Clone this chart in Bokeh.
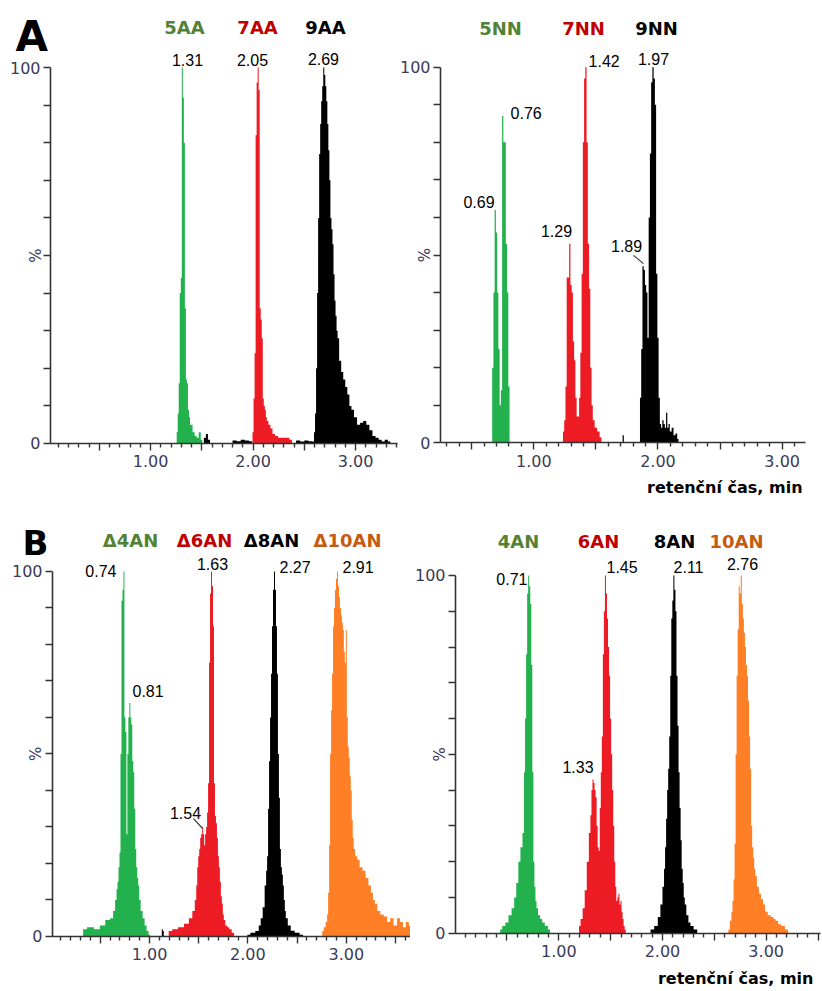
import math
from bokeh.plotting import figure
from bokeh.models import Range1d, FixedTicker, Label, ColumnDataSource
from bokeh.layouts import column, row
from bokeh.embed import file_html
from bokeh.resources import INLINE

# ------------------------------------------------------------------ data
x_major_ticks = [0.5, 1.0, 1.5, 2.0, 2.5, 3.0, 3.5]
x_major_labels = ["", "1.00", "", "2.00", "", "3.00", ""]
x_minor_ticks = [0.1, 0.2, 0.3, 0.4, 0.6, 0.7, 0.8, 0.9, 1.1, 1.2, 1.3, 1.4,
                 1.6, 1.7, 1.8, 1.9, 2.1, 2.2, 2.3, 2.4, 2.6, 2.7, 2.8, 2.9,
                 3.1, 3.2, 3.3, 3.4, 3.6]
y_ticks = [0, 10, 20, 30, 40, 50, 60, 70, 80, 90, 100]
y_tick_labels = ["0", "", "", "", "", "", "", "", "", "", "100"]

# Panel A, left: (retention time min, relative intensity %)
tr_5AA = [(1.25, 0), (1.26, 3), (1.27, 8), (1.28, 16), (1.29, 40), (1.30, 44),
          (1.31, 100), (1.32, 92), (1.33, 80), (1.34, 36), (1.35, 17), (1.36, 16),
          (1.37, 9), (1.38, 7), (1.39, 5), (1.40, 5), (1.42, 3), (1.44, 2),
          (1.46, 1.5), (1.48, 3), (1.50, 1), (1.51, 0)]
tr_7AA = [(1.99, 0), (2.00, 3), (2.01, 12), (2.02, 24), (2.03, 82), (2.04, 96),
          (2.05, 100), (2.06, 94), (2.07, 36), (2.08, 33), (2.09, 28), (2.10, 12),
          (2.11, 10), (2.12, 9), (2.13, 7), (2.14, 6), (2.16, 5), (2.18, 4),
          (2.20, 2.5), (2.23, 2), (2.26, 1.5), (2.30, 1.5), (2.34, 1.5), (2.37, 1),
          (2.39, 0)]
tr_9AA = [(1.51, 0), (1.53, 1.5), (1.55, 2.5), (1.57, 1), (1.59, 0), (1.78, 0),
          (1.82, 0.8), (1.86, 0.6), (1.90, 1), (1.94, 0.8), (1.98, 0.6), (2.00, 0),
          (2.40, 0), (2.44, 0.8), (2.48, 0.5), (2.52, 0.8), (2.56, 0.6), (2.59, 0.5),
          (2.60, 3), (2.61, 8), (2.62, 20), (2.63, 40), (2.64, 60), (2.65, 77),
          (2.66, 85), (2.67, 91), (2.68, 95), (2.69, 100), (2.70, 98), (2.71, 95),
          (2.72, 91), (2.73, 85), (2.74, 78), (2.75, 70), (2.76, 60), (2.77, 57),
          (2.78, 53), (2.79, 45), (2.80, 38), (2.81, 34), (2.82, 30), (2.83, 28),
          (2.85, 22), (2.87, 19), (2.89, 17), (2.91, 15), (2.93, 13), (2.95, 10),
          (2.97, 9), (3.00, 7), (3.03, 5), (3.06, 5.5), (3.09, 6), (3.12, 5),
          (3.15, 3.5), (3.18, 2), (3.21, 1.5), (3.24, 1), (3.27, 0.5), (3.30, 1),
          (3.33, 0.5), (3.35, 0)]

# Panel A, right
tr_5NN = [(0.66, 0), (0.67, 20), (0.68, 40), (0.69, 62), (0.70, 56), (0.71, 40),
          (0.72, 25), (0.73, 10), (0.74, 14), (0.75, 87), (0.76, 80), (0.77, 80),
          (0.78, 53), (0.79, 40), (0.80, 15), (0.81, 0)]
tr_7NN = [(1.23, 0), (1.24, 3), (1.25, 6), (1.26, 15), (1.27, 44), (1.28, 44),
          (1.29, 53), (1.30, 42), (1.31, 40), (1.32, 27), (1.33, 22), (1.34, 12),
          (1.35, 7), (1.36, 7), (1.37, 12), (1.38, 24), (1.39, 45), (1.40, 80),
          (1.41, 97), (1.42, 100), (1.43, 80), (1.44, 53), (1.45, 41), (1.46, 20),
          (1.47, 10), (1.48, 6), (1.50, 4), (1.52, 3), (1.54, 1.5), (1.55, 0)]
tr_9NN = [(1.71, 0), (1.72, 2), (1.73, 0), (1.85, 0), (1.86, 12), (1.87, 25),
          (1.88, 47), (1.89, 46), (1.90, 42), (1.91, 40), (1.92, 28), (1.93, 60),
          (1.94, 77), (1.95, 96), (1.96, 100), (1.97, 97), (1.98, 90), (1.99, 45),
          (2.00, 28), (2.01, 12), (2.02, 5), (2.03, 4), (2.04, 6), (2.05, 5),
          (2.06, 4), (2.07, 8), (2.08, 4), (2.09, 5), (2.10, 3), (2.12, 4),
          (2.13, 2), (2.15, 2.5), (2.16, 1), (2.17, 0)]

# Panel B, left
tr_d4AN = [(0.32, 0), (0.33, 2), (0.40, 2.5), (0.47, 2), (0.52, 3), (0.58, 4.5),
           (0.62, 5), (0.64, 7), (0.66, 10), (0.67, 13), (0.68, 15), (0.69, 19),
           (0.70, 23), (0.71, 50), (0.72, 92), (0.73, 95), (0.74, 100), (0.75, 60),
           (0.76, 56), (0.77, 28), (0.78, 50), (0.79, 60), (0.80, 64), (0.81, 60),
           (0.82, 58), (0.83, 48), (0.84, 45), (0.85, 35), (0.86, 24), (0.87, 19),
           (0.88, 16), (0.89, 14), (0.90, 10), (0.92, 7), (0.94, 5), (0.96, 3),
           (0.98, 1.5), (1.00, 0.5), (1.01, 0)]
tr_d6AN = [(1.19, 0), (1.20, 1.5), (1.26, 2), (1.32, 2.5), (1.38, 3.5), (1.42, 5),
           (1.45, 7), (1.47, 10), (1.48, 14), (1.49, 19), (1.50, 22), (1.51, 24),
           (1.52, 27), (1.53, 28), (1.54, 30), (1.55, 28), (1.56, 25), (1.57, 28),
           (1.58, 30), (1.59, 34), (1.60, 42), (1.61, 75), (1.62, 94), (1.63, 100),
           (1.64, 96), (1.65, 85), (1.66, 42), (1.67, 33), (1.68, 31), (1.69, 27),
           (1.70, 22), (1.71, 19), (1.72, 15), (1.73, 11), (1.74, 9), (1.75, 6),
           (1.76, 4.5), (1.78, 3), (1.80, 2.5), (1.82, 2), (1.85, 1), (1.87, 0)]
tr_d8AN = [(1.12, 0), (1.13, 2), (1.14, 1.5), (1.15, 0), (1.99, 0), (2.00, 0.5),
           (2.05, 1), (2.10, 1.5), (2.12, 3), (2.14, 5), (2.16, 8), (2.18, 14),
           (2.19, 18), (2.20, 22), (2.21, 35), (2.22, 48), (2.23, 60), (2.24, 72),
           (2.25, 85), (2.26, 95), (2.27, 100), (2.28, 95), (2.29, 85), (2.30, 72),
           (2.31, 50), (2.32, 38), (2.33, 24), (2.34, 19), (2.35, 17), (2.36, 14),
           (2.37, 10), (2.38, 7), (2.39, 5), (2.42, 3), (2.45, 1.6), (2.50, 1),
           (2.55, 0.5), (2.57, 0)]
tr_d10AN = [(2.75, 0), (2.76, 1.5), (2.78, 2.5), (2.80, 4), (2.81, 6), (2.82, 12),
            (2.83, 25), (2.84, 50), (2.85, 62), (2.86, 72), (2.87, 85), (2.88, 90),
            (2.89, 95), (2.90, 98), (2.91, 100), (2.92, 96), (2.93, 93), (2.94, 90),
            (2.95, 88), (2.96, 86), (2.97, 84), (2.98, 78), (2.99, 75), (3.00, 84),
            (3.01, 60), (3.02, 52), (3.03, 49), (3.04, 44), (3.05, 40), (3.06, 32),
            (3.07, 27), (3.08, 24), (3.10, 22), (3.12, 21), (3.15, 19), (3.18, 18),
            (3.21, 16), (3.24, 14), (3.26, 12), (3.28, 10), (3.30, 9), (3.33, 7),
            (3.36, 6), (3.40, 5.5), (3.43, 4), (3.46, 5), (3.50, 3), (3.53, 5),
            (3.56, 4), (3.59, 2.5), (3.62, 4), (3.65, 3)]

# Panel B, right
tr_4AN = [(0.43, 0), (0.44, 1), (0.47, 2), (0.50, 3), (0.53, 5), (0.56, 7),
          (0.58, 10), (0.60, 14), (0.62, 20), (0.64, 24), (0.66, 28), (0.67, 45),
          (0.68, 60), (0.69, 78), (0.70, 95), (0.71, 100), (0.72, 97), (0.73, 92),
          (0.74, 75), (0.75, 45), (0.76, 20), (0.77, 13), (0.78, 9), (0.79, 7),
          (0.81, 5), (0.83, 4), (0.85, 3), (0.88, 2), (0.91, 1), (0.92, 0)]
tr_6AN = [(1.19, 0), (1.20, 2), (1.22, 4), (1.24, 7), (1.26, 12), (1.28, 20),
          (1.30, 28), (1.31, 33), (1.32, 40), (1.33, 43), (1.34, 42), (1.35, 40),
          (1.36, 38), (1.37, 30), (1.38, 24), (1.39, 23), (1.40, 35), (1.41, 45),
          (1.42, 55), (1.43, 78), (1.44, 90), (1.45, 100), (1.46, 95), (1.47, 88),
          (1.48, 80), (1.49, 72), (1.50, 60), (1.51, 50), (1.52, 40), (1.53, 30),
          (1.54, 20), (1.55, 13), (1.56, 9), (1.57, 10), (1.58, 11), (1.59, 8),
          (1.60, 9), (1.61, 6), (1.62, 4), (1.63, 2), (1.64, 1), (1.65, 0)]
tr_8AN = [(1.87, 0), (1.90, 1), (1.94, 2), (1.97, 4.5), (1.99, 8), (2.01, 13),
          (2.02, 18), (2.03, 24), (2.04, 32), (2.05, 40), (2.06, 46), (2.07, 55),
          (2.08, 72), (2.09, 88), (2.10, 93), (2.11, 100), (2.12, 96), (2.13, 90),
          (2.14, 72), (2.15, 58), (2.16, 45), (2.17, 35), (2.18, 26), (2.19, 18),
          (2.20, 14), (2.21, 10), (2.22, 8), (2.24, 5), (2.26, 3), (2.28, 2),
          (2.32, 1), (2.35, 0)]
tr_10AN = [(2.63, 0), (2.64, 1), (2.66, 3.5), (2.67, 6), (2.68, 9), (2.69, 15),
           (2.70, 25), (2.71, 50), (2.72, 72), (2.73, 85), (2.74, 97), (2.75, 95),
           (2.76, 100), (2.77, 92), (2.78, 88), (2.79, 84), (2.80, 80), (2.81, 75),
           (2.82, 72), (2.83, 65), (2.84, 55), (2.85, 46), (2.86, 30), (2.87, 24),
           (2.88, 21), (2.89, 18), (2.90, 16), (2.92, 13), (2.94, 11), (2.96, 9.5),
           (2.98, 8), (3.00, 6), (3.03, 5), (3.06, 4.5), (3.08, 4), (3.10, 3.5),
           (3.13, 2.5), (3.16, 2), (3.20, 1), (3.22, 0)]

# ------------------------------------------------------------------ style
GREEN, RED, BLACK, ORANGE = "#22B14C", "#ED1C24", "#000000", "#FF7F27"
T_GREEN, T_RED, T_BLACK, T_ORANGE = "#548235", "#C00000", "#000000", "#C55A11"
AXIS_COLOR = "#333333"
TICK_TEXT = "#3b3b58"
TITLE_FONT = "DejaVu Sans"
NUM_FONT = "Liberation Sans"

SCALE = {}   # pixels per % unit for each panel, used to lift text baselines


def make_panel(w, h, xr, yr, xbounds):
    p = figure(width=w, height=h, x_range=Range1d(*xr), y_range=Range1d(*yr),
               output_backend="svg", toolbar_location=None,
               min_border=0, min_border_left=0, min_border_right=0,
               min_border_top=0, min_border_bottom=0)
    SCALE[p.id] = h / (yr[1] - yr[0])
    p.outline_line_color = None
    p.xgrid.visible = False
    p.ygrid.visible = False
    p.background_fill_color = "white"
    p.border_fill_color = "white"

    minor = [t for t in x_minor_ticks if xbounds[0] <= t <= xbounds[1]]
    major = [t for t in x_major_ticks if xbounds[0] <= t <= xbounds[1]]
    xa = p.xaxis[0]
    xa.fixed_location = 0
    xa.bounds = xbounds
    xa.ticker = FixedTicker(ticks=major, minor_ticks=minor)
    xa.major_label_overrides = dict(zip(x_major_ticks, x_major_labels))
    xa.axis_line_color = AXIS_COLOR
    xa.axis_line_width = 1.6
    xa.major_tick_line_color = AXIS_COLOR
    xa.minor_tick_line_color = AXIS_COLOR
    xa.major_tick_line_width = 1.4
    xa.minor_tick_line_width = 1.4
    xa.major_tick_in = 0
    xa.major_tick_out = 7
    xa.minor_tick_in = 0
    xa.minor_tick_out = 4
    xa.major_label_text_font = "DejaVu Sans"
    xa.major_label_text_font_size = "16px"
    xa.major_label_text_color = TICK_TEXT
    xa.major_label_standoff = 5

    ya = p.yaxis[0]
    ya.fixed_location = xbounds[0]
    ya.bounds = (0, 100)
    ya.ticker = FixedTicker(ticks=y_ticks, minor_ticks=[])
    ya.major_label_overrides = dict(zip(y_ticks, y_tick_labels))
    ya.axis_line_color = AXIS_COLOR
    ya.axis_line_width = 1.6
    ya.major_tick_line_color = AXIS_COLOR
    ya.major_tick_line_width = 1.4
    ya.major_tick_in = 0
    ya.major_tick_out = 7
    ya.minor_tick_line_color = None
    ya.major_label_text_font = "DejaVu Sans"
    ya.major_label_text_font_size = "16px"
    ya.major_label_text_color = TICK_TEXT
    ya.major_label_standoff = 3
    return p


def trace(p, pairs, color):
    t = [a for a, b in pairs]
    v = [b for a, b in pairs]
    src = ColumnDataSource(dict(t=t, v=v))
    p.varea_step(x="t", y1=0, y2="v", step_mode="center", source=src,
                 fill_color=color, fill_alpha=1.0)


def text(p, x, y, s, size, color="black", font=NUM_FONT, style="normal",
         align="center", baseline="alphabetic", angle=0.0):
    if baseline == "alphabetic":
        y = y + 0.38 * size / SCALE[p.id]
    p.add_layout(Label(x=x, y=y, text=s, text_font=font, text_font_size=f"{size}px",
                       text_font_style=style, text_color=color, text_align=align,
                       text_baseline=baseline, angle=angle))


def leader(p, x0, y0, x1, y1):
    p.segment(x0=[x0], y0=[y0], x1=[x1], y1=[y1], line_color="#333333", line_width=1.2)


def pct_label(p, x):
    text(p, x, 50, "%", 15, TICK_TEXT, "DejaVu Sans", baseline="middle",
         angle=math.pi / 2)


# ------------------------------------------------------------------ panel A left
p1 = make_panel(400, 510, (-0.4638, 3.4387), (-17.82, 117.82), (0.024, 3.41))
trace(p1, tr_9AA, BLACK)
trace(p1, tr_5AA, GREEN)
trace(p1, tr_7AA, RED)
text(p1, -0.3175, 104.0, "A", 42, font=TITLE_FONT, style="bold", align="left")
text(p1, 1.331, 108.9, "5AA", 18, T_GREEN, TITLE_FONT, "bold")
text(p1, 2.044, 108.9, "7AA", 18, T_RED, TITLE_FONT, "bold")
text(p1, 2.707, 108.9, "9AA", 18, T_BLACK, TITLE_FONT, "bold")
text(p1, 1.361, 100.4, "1.31", 16)
text(p1, 1.995, 100.4, "2.05", 16)
text(p1, 2.687, 100.6, "2.69", 16)
pct_label(p1, -0.122)

# ------------------------------------------------------------------ panel A right
p2 = make_panel(422, 510, (-0.0731, 3.3246), (-18.02, 117.76), (0.249, 3.19))
trace(p2, tr_5NN, GREEN)
trace(p2, tr_7NN, RED)
trace(p2, tr_9NN, BLACK)
text(p2, 0.732, 108.5, "5NN", 18, T_GREEN, TITLE_FONT, "bold")
text(p2, 1.400, 108.5, "7NN", 18, T_RED, TITLE_FONT, "bold")
text(p2, 1.988, 108.5, "9NN", 18, T_BLACK, TITLE_FONT, "bold")
text(p2, 1.441, 100.0, "1.42", 16, align="left")
text(p2, 1.964, 100.5, "1.97", 16)
text(p2, 0.813, 86.3, "0.76", 16, align="left")
text(p2, 0.684, 62.4, "0.69", 16, align="right")
text(p2, 1.183, 54.7, "1.29", 16)
text(p2, 1.747, 50.9, "1.89", 16)
leader(p2, 1.803, 49.9, 1.883, 47.7)
pct_label(p2, 0.128)
text(p2, 3.164, -13.6, "retenční čas, min", 16, font=TITLE_FONT, style="bold",
     align="right")

# ------------------------------------------------------------------ panel B left
p3 = make_panel(410, 481, (-0.5144, 3.6522), (-15.07, 116.71), (0.014, 3.652))
trace(p3, tr_d8AN, BLACK)
trace(p3, tr_d4AN, GREEN)
trace(p3, tr_d6AN, RED)
trace(p3, tr_d10AN, ORANGE)
text(p3, -0.291, 104.4, "B", 34, font=TITLE_FONT, style="bold", align="left")
text(p3, 0.807, 106.6, "Δ4AN", 18, T_GREEN, TITLE_FONT, "bold")
text(p3, 1.559, 106.6, "Δ6AN", 18, T_RED, TITLE_FONT, "bold")
text(p3, 2.240, 106.6, "Δ8AN", 18, T_BLACK, TITLE_FONT, "bold")
text(p3, 3.012, 106.6, "Δ10AN", 18, T_ORANGE, TITLE_FONT, "bold")
text(p3, 0.664, 98.4, "0.74", 16, align="right")
text(p3, 1.640, 100.3, "1.63", 16)
text(p3, 2.321, 99.7, "2.27", 16, align="left")
text(p3, 2.961, 99.7, "2.91", 16, align="left")
text(p3, 0.827, 65.5, "0.81", 16, align="left")
text(p3, 1.366, 32.3, "1.54", 16)
leader(p3, 1.447, 32.3, 1.538, 29.6)
pct_label(p3, -0.149)

# ------------------------------------------------------------------ panel B right
p4 = make_panel(412, 481, (-0.4299, 3.5431), (-16.30, 118.17), (0.004, 3.52))
trace(p4, tr_4AN, GREEN)
trace(p4, tr_6AN, RED)
trace(p4, tr_8AN, BLACK)
trace(p4, tr_10AN, ORANGE)
text(p4, 0.612, 107.5, "4AN", 18, T_GREEN, TITLE_FONT, "bold")
text(p4, 1.383, 107.5, "6AN", 18, T_RED, TITLE_FONT, "bold")
text(p4, 2.116, 107.5, "8AN", 18, T_BLACK, TITLE_FONT, "bold")
text(p4, 2.714, 107.5, "10AN", 18, T_ORANGE, TITLE_FONT, "bold")
text(p4, 0.698, 97.2, "0.71", 16, align="right")
text(p4, 1.460, 100.8, "1.45", 16, align="left")
text(p4, 2.251, 100.8, "2.11", 16)
text(p4, 2.772, 101.4, "2.76", 16)
text(p4, 1.185, 44.9, "1.33", 16)
pct_label(p4, -0.141)
text(p4, 3.456, -14.4, "retenční čas, min", 16, font=TITLE_FONT, style="bold",
     align="right")

layout = column(row(p1, p2), row(p3, p4))
open("out.html", "w").write(file_html(layout, INLINE))
